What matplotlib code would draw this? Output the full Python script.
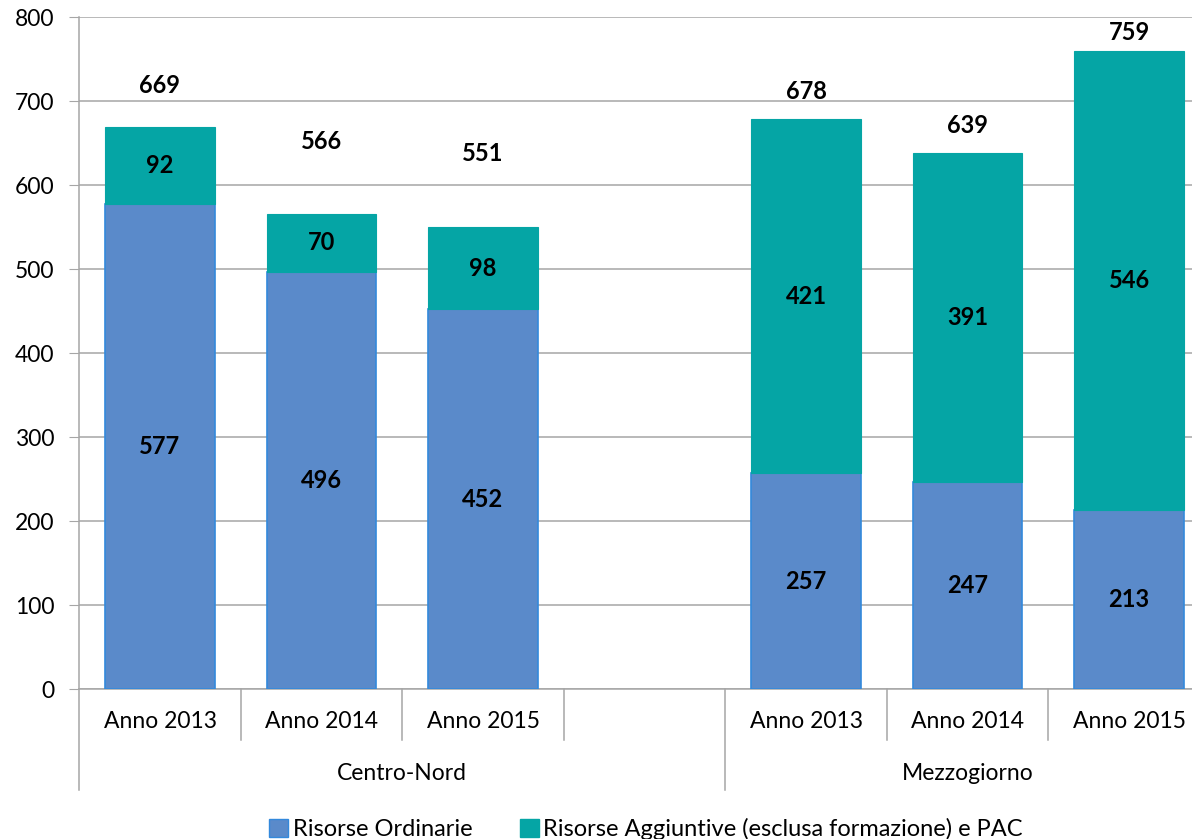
import matplotlib.pyplot as plt
from matplotlib.patches import Patch
from matplotlib.transforms import blended_transform_factory

# Data
groups = ["Centro-Nord", "Mezzogiorno"]
years = ["Anno 2013", "Anno 2014", "Anno 2015"]
ordinarie_cn = [577, 496, 452]
aggiuntive_cn = [92, 70, 98]
totale_cn = [669, 566, 551]
ordinarie_mz = [257, 247, 213]
aggiuntive_mz = [421, 391, 546]
totale_mz = [678, 639, 759]
series_names = ["Risorse Ordinarie", "Risorse Aggiuntive (esclusa formazione) e PAC"]

# Layout: slot positions (slot 3 is an empty gap) and label gaps above totals
slots_cn = [0, 1, 2]
slots_mz = [4, 5, 6]
total_gap = [49, 86, 87, 33, 32, 23]

blue = "#5A8ACA"
blue_edge = "#3389DC"
teal = "#05A5A5"
grey = "#A6A6A6"

plt.rcParams['font.family'] = ['Lato', 'DejaVu Sans']

fig = plt.figure(figsize=(11.92, 8.39), dpi=100)
W, H = 1192, 839
ax = fig.add_axes([79.25 / W, 150 / H, (1209.75 - 79.25) / W, 672 / H])

xs = slots_cn + slots_mz
ordinarie = ordinarie_cn + ordinarie_mz
aggiuntive = aggiuntive_cn + aggiuntive_mz
totals = totale_cn + totale_mz

bw = 0.68
ax.bar(xs, ordinarie, width=bw, color=blue, edgecolor=blue_edge, linewidth=1.2, zorder=3)
ax.bar(xs, aggiuntive, bottom=ordinarie, width=bw, color=teal, edgecolor=teal, linewidth=0.8, zorder=3)

# segment and total labels
for x, o, a, t, g in zip(xs, ordinarie, aggiuntive, totals, total_gap):
    ax.text(x, o / 2, str(o), ha='center', va='center', fontsize=17, fontweight='bold', zorder=4)
    ax.text(x, o + a / 2, str(a), ha='center', va='center', fontsize=17, fontweight='bold', zorder=4)
    ax.text(x, t + g, str(t), ha='center', va='center', fontsize=17, fontweight='bold', zorder=4)

ax.set_xlim(-0.5, 6.5)
ax.set_ylim(0, 800)
ax.set_yticks(range(0, 801, 100))
ax.yaxis.grid(True, color=grey, linewidth=1.1, zorder=0)
ax.tick_params(axis='y', length=7, color=grey, labelsize=16.5, pad=11)
ax.tick_params(axis='x', length=0, labelsize=16.5, pad=16)
ax.set_xticks(xs)
ax.set_xticklabels(years + years)

for side in ['top', 'right']:
    ax.spines[side].set_visible(False)
for side in ['left', 'bottom']:
    ax.spines[side].set_color(grey)
    ax.spines[side].set_linewidth(1.1)

# category separators below the axis
trans = blended_transform_factory(ax.transData, ax.transAxes)
for b in [0.5, 1.5, 2.5, 4.5, 5.5, 6.5]:
    ax.plot([b, b], [0, -51 / 672], color=grey, linewidth=1.1, transform=trans, clip_on=False)
for b in [-0.5, 3.5]:
    ax.plot([b, b], [0, -101 / 672], color=grey, linewidth=1.1, transform=trans, clip_on=False)

# group labels
ax.text(1.5, -84 / 672, groups[0], ha='center', va='center', fontsize=16.5, transform=trans)
ax.text(5.0, -84 / 672, groups[1], ha='center', va='center', fontsize=16.5, transform=trans)

handles = [Patch(facecolor=blue, edgecolor=blue_edge), Patch(facecolor=teal, edgecolor=teal)]
fig.legend(handles, series_names, loc='center', bbox_to_anchor=(646 / W, 10 / H),
           ncol=2, frameon=False, fontsize=17, handlelength=0.8, handleheight=0.8,
           handletextpad=0.2, columnspacing=2.0)

fig.savefig("out.png", dpi=100)
